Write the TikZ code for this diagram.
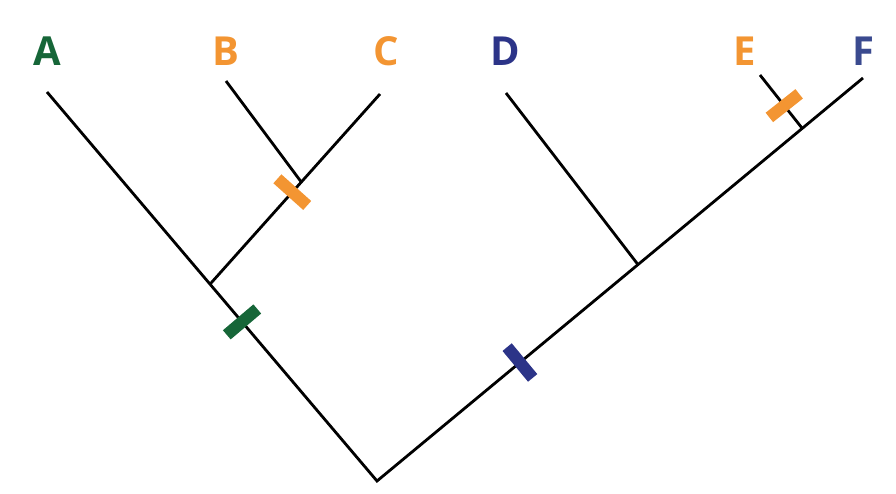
\documentclass[tikz,border=0pt]{standalone}
\usepackage{fontspec}
\setmainfont{Open Sans}
\usetikzlibrary{calc}
\definecolor{cgreen}{RGB}{22,102,56}
\definecolor{corange}{RGB}{243,149,50}
\definecolor{cnavy}{RGB}{44,52,136}
\definecolor{cblue}{RGB}{58,74,143}
\tikzset{
  branch/.style={line width=2.8pt},
  tick/.style={line width=12pt},
  taxon/.style={anchor=base, font=\fontsize{40}{40}\selectfont\bfseries, inner sep=0pt}
}
\begin{document}
\begin{tikzpicture}[x=1pt,y=-1pt]
\useasboundingbox (0,0) rectangle (896,494);
% tips and internal points
\coordinate (root) at (377,481);
\coordinate (tA) at (47,92);
\coordinate (tB) at (226,81);
\coordinate (tC) at (380,94);
\coordinate (tD) at (506,93);
\coordinate (tE) at (760,75);
\coordinate (tF) at (863,78);
\coordinate (nABC) at ($(root)!0.506!(tA)$);
\coordinate (nBC) at ($(nABC)!0.537!(tC)$);
\coordinate (nDEF) at ($(root)!0.537!(tF)$);
\coordinate (nEF) at ($(root)!0.875!(tF)$);
% branches
\draw[branch] (tA) -- (root) -- (tF);
\draw[branch] (nABC) -- (tC);
\draw[branch] (nBC) -- (tB);
\draw[branch] (nDEF) -- (tD);
\draw[branch] (nEF) -- (tE);
% marks
\coordinate (mG) at ($(root)!0.409!(tA)$);
\draw[tick,cgreen] ($(mG)!20pt!90:(tA)$) -- ($(mG)!20pt!-90:(tA)$);
\coordinate (mO1) at ($(nABC)!0.484!(tC)$);
\draw[tick,corange] ($(mO1)!20pt!90:(tC)$) -- ($(mO1)!20pt!-90:(tC)$);
\coordinate (mN) at ($(root)!0.294!(tF)$);
\draw[tick,cnavy] ($(mN)!20pt!90:(tF)$) -- ($(mN)!20pt!-90:(tF)$);
\coordinate (mO2) at ($(nEF)!0.426!(tE)$);
\draw[tick,corange] ($(mO2)!19pt!90:(tE)$) -- ($(mO2)!19pt!-90:(tE)$);
% labels
\node[taxon,text=cgreen] (A) at (47.5,66) {A};
\node[taxon,text=corange] (B) at (225.5,66) {B};
\node[taxon,text=corange] (C) at (386,66) {C};
\node[taxon,text=cnavy] (D) at (505.5,66) {D};
\node[taxon,text=corange] (E) at (744.5,66) {E};
\node[taxon,text=cblue] (F) at (863,66) {F};
\end{tikzpicture}
\end{document}
